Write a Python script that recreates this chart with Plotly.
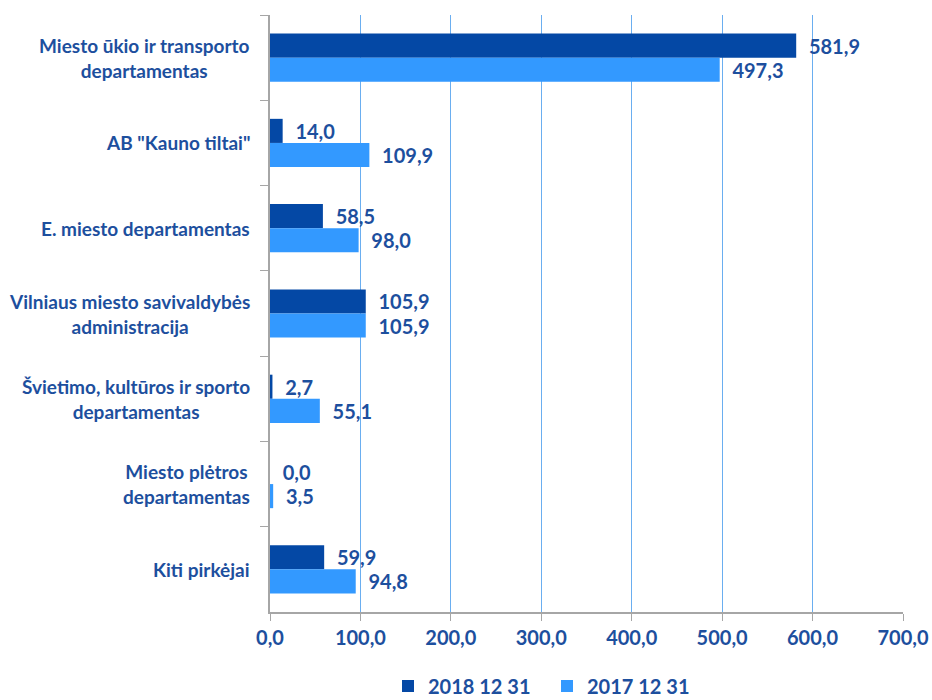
import plotly.graph_objects as go

categories = [
    "Miesto ūkio ir transporto<br>departamentas",
    "AB \"Kauno tiltai\"",
    "E. miesto departamentas",
    "Vilniaus miesto savivaldybės<br>administracija",
    "Švietimo, kultūros ir sporto<br>departamentas",
    "Miesto plėtros<br>departamentas",
    "Kiti pirkėjai",
]
values_2018 = [581.9, 14.0, 58.5, 105.9, 2.7, 0.0, 59.9]
values_2017 = [497.3, 109.9, 98.0, 105.9, 55.1, 3.5, 94.8]
series_names = ["2018 12 31", "2017 12 31"]
x_ticks = [0, 100, 200, 300, 400, 500, 600, 700]

TEXT = "#1d4f9e"
DARK = "#0448a5"
LIGHT = "#3399ff"
FONT = "Lato"

W, H = 932, 700

fig = go.Figure()
for name, vals, col in [(series_names[0], values_2018, DARK), (series_names[1], values_2017, LIGHT)]:
    fig.add_trace(go.Bar(
        y=categories, x=vals, name=name, orientation="h",
        marker=dict(color=col, line=dict(width=0)),
        text=vals, texttemplate="\u00a0\u00a0%{x:.1f}", textposition="outside",
        textfont=dict(family=FONT, size=20, color=TEXT, weight="bold"),
        cliponaxis=False,
    ))

for c in categories:
    fig.add_annotation(
        x=-18 / 633, xref="paper", y=c, yref="y", text=c, showarrow=False,
        xanchor="right", yanchor="middle", align="center",
        font=dict(family=FONT, size=19, color=TEXT, weight="bold"),
    )

fig.update_layout(
    width=W, height=H,
    margin=dict(l=270, r=29, t=15, b=88),
    plot_bgcolor="white", paper_bgcolor="white",
    barmode="group", bargap=0.435, bargroupgap=0,
    separators=", ",
    showlegend=True,
    legend=dict(orientation="h", x=(388 - 270) / 633, xanchor="left",
                yref="container", y=14 / H, yanchor="middle",
                font=dict(family=FONT, size=20, color=TEXT, weight="bold"),
                itemwidth=30, tracegroupgap=0,
                entrywidth=114, entrywidthmode="pixels"),
)
fig.update_xaxes(
    range=[0, 700], tickvals=x_ticks, tickformat=".1f", automargin=False,
    showgrid=True, gridcolor="#6aaef0", gridwidth=1,
    zeroline=False, showline=True, linecolor="#a6a6a6", linewidth=1.5,
    ticks="outside", ticklen=7, tickcolor="#a6a6a6",
    tickfont=dict(family=FONT, size=20, color=TEXT, weight="bold"),
)
fig.update_yaxes(
    range=[6.5, -0.5], showticklabels=False, tickson="boundaries", automargin=False,
    ticks="outside", ticklen=8, tickcolor="#a6a6a6",
    showline=True, linecolor="#a6a6a6", linewidth=1.5, showgrid=False,
)

fig.write_html("out.html", config={"displayModeBar": False},
               post_script="document.body.style.margin='0';document.body.style.overflow='hidden';")
